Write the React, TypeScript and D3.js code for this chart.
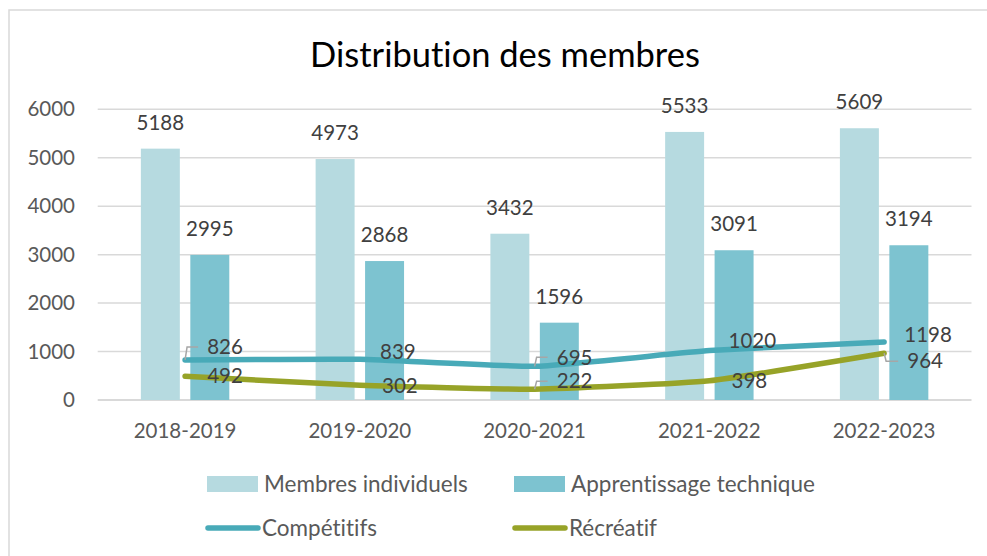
import React from "react";
import * as d3 from "d3";

const categories = ["2018-2019", "2019-2020", "2020-2021", "2021-2022", "2022-2023"];
const membresIndividuels = [5188, 4973, 3432, 5533, 5609];
const apprentissageTechnique = [2995, 2868, 1596, 3091, 3194];
const competitifs = [826, 839, 695, 1020, 1198];
const recreatif = [492, 302, 222, 398, 964];
const yTicks = [0, 1000, 2000, 3000, 4000, 5000, 6000];

// label placement (pixel offsets from the point), kept apart from the data
const compOffsets: [number, number][] = [[40, -13], [38, -8], [40, -9], [43, -10], [44, -7]];
const recOffsets: [number, number][] = [[40, 0], [40, 0], [40, -8], [40, 0], [41, 8]];
const compLeaders = [true, false, true, false, false];
const recLeaders = [false, false, true, false, true];

const W = 987;
const H = 556;
const FONT = "Lato, 'Open Sans', sans-serif";

export default function App() {
  const left = 97.7;
  const right = 971.5;
  const x = d3.scaleBand<string>().domain(categories).range([left, right]).padding(0);
  const y = d3.scaleLinear().domain([0, 6000]).range([400, 109.3]);
  const step = x.bandwidth();
  const barW = step * 0.223;
  const gap = step * 0.06;
  const cx = (c: string) => (x(c) as number) + step / 2;

  const line = d3
    .line<number>()
    .x((_, i) => cx(categories[i]))
    .y((v) => y(v))
    .curve(d3.curveCardinal.tension(0.55));

  const lineLabels = (
    vals: number[],
    offs: [number, number][],
    leaders: boolean[],
    key: string
  ) =>
    vals.map((v, i) => {
      const px = cx(categories[i]);
      const py = y(v);
      const lx = px + offs[i][0];
      const ly = py + offs[i][1];
      const textLeft = lx - 18;
      const leaderY = ly;
      return (
        <g key={key + i}>
          {leaders[i] && (
            <polyline
              points={`${px},${py} ${px + 2},${leaderY} ${textLeft - 9},${leaderY}`}
              fill="none"
              stroke="#A6A6A6"
              strokeWidth={1.5}
            />
          )}
          <text
            x={lx}
            y={ly}
            dy="0.35em"
            textAnchor="middle"
            fontSize={20.5}
            fill="#404040"
            fontFamily={FONT}
          >
            {v}
          </text>
        </g>
      );
    });

  return (
    <svg
      width={W}
      height={H}
      style={{ position: "absolute", left: 0, top: 0, fontVariantLigatures: "none" }}
    >
      <rect x={0} y={0} width={W} height={H} fill="#ffffff" />
      <rect x={9} y={10} width={W + 10} height={H + 10} fill="#ffffff" stroke="#D9D9D9" strokeWidth={1.5} />
      <text
        x={505}
        y={67}
        textAnchor="middle"
        fontSize={34.5}
        fill="#000000"
        fontFamily={FONT}
        style={{ fontVariantLigatures: "none" }}
      >
        Distribution des membres
      </text>

      {yTicks.map((t) => (
        <g key={t}>
          <line
            x1={left}
            x2={right}
            y1={y(t)}
            y2={y(t)}
            stroke="#D9D9D9"
            strokeWidth={t === 0 ? 2 : 1.5}
          />
          <text
            x={75}
            y={y(t)}
            dy="0.35em"
            textAnchor="end"
            fontSize={20.5}
            fill="#595959"
            fontFamily={FONT}
          >
            {t}
          </text>
        </g>
      ))}

      {categories.map((c, i) => {
        const c0 = cx(c);
        const x1 = c0 - gap / 2 - barW;
        const x2 = c0 + gap / 2;
        return (
          <g key={c}>
            <rect x={x1} y={y(membresIndividuels[i])} width={barW} height={y(0) - y(membresIndividuels[i])} fill="#B6DAE0" />
            <rect x={x2} y={y(apprentissageTechnique[i])} width={barW} height={y(0) - y(apprentissageTechnique[i])} fill="#7DC3D0" />
            <text x={x1 + barW / 2} y={y(membresIndividuels[i]) - 19} textAnchor="middle" fontSize={20.5} fill="#404040" fontFamily={FONT}>
              {membresIndividuels[i]}
            </text>
            <text x={x2 + barW / 2} y={y(apprentissageTechnique[i]) - 19} textAnchor="middle" fontSize={20.5} fill="#404040" fontFamily={FONT}>
              {apprentissageTechnique[i]}
            </text>
            <text x={c0} y={438} textAnchor="middle" fontSize={20.5} fill="#595959" fontFamily={FONT}>
              {c}
            </text>
          </g>
        );
      })}

      <path d={line(competitifs) || ""} fill="none" stroke="#48AAB8" strokeWidth={5.5} strokeLinecap="round" />
      <path d={line(recreatif) || ""} fill="none" stroke="#97A328" strokeWidth={5.5} strokeLinecap="round" />

      {lineLabels(competitifs, compOffsets, compLeaders, "c")}
      {lineLabels(recreatif, recOffsets, recLeaders, "r")}

      {/* legend */}
      <g fontFamily={FONT} fontSize={22.5} fill="#595959">
        <rect x={207} y={476} width={51} height={16} fill="#B6DAE0" />
        <text x={264} y={484} dy="0.35em">Membres individuels</text>
        <rect x={514} y={476} width={51} height={16} fill="#7DC3D0" />
        <text x={571} y={484} dy="0.35em">Apprentissage technique</text>
        <line x1={208} x2={258} y1={528} y2={528} stroke="#48AAB8" strokeWidth={5.5} strokeLinecap="round" />
        <text x={262} y={528} dy="0.35em">Compétitifs</text>
        <line x1={515} x2={565} y1={528} y2={528} stroke="#97A328" strokeWidth={5.5} strokeLinecap="round" />
        <text x={569} y={528} dy="0.35em">Récréatif</text>
      </g>
    </svg>
  );
}
